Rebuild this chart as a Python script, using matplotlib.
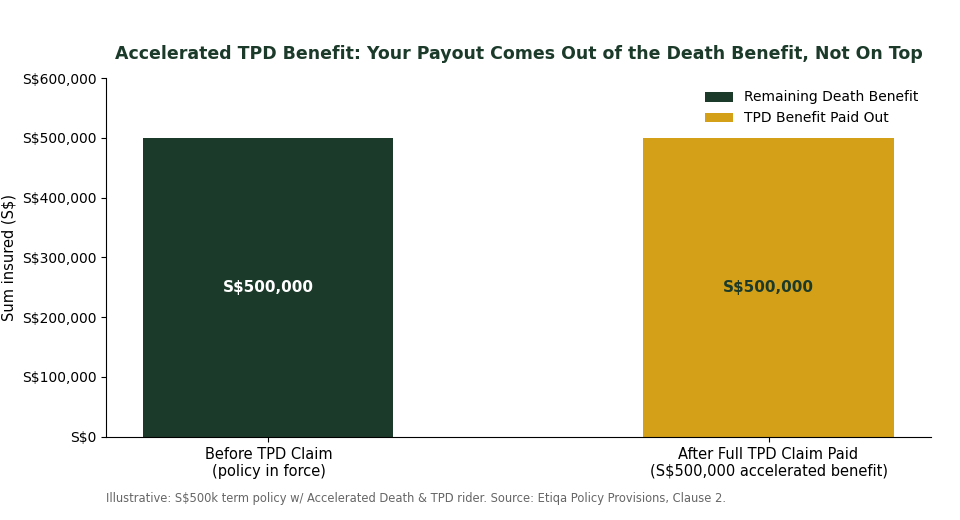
import numpy as np
import matplotlib
matplotlib.use("Agg")
import matplotlib.pyplot as plt
from matplotlib.ticker import FuncFormatter

DARK = "#1b3a2a"
GOLD = "#d4a017"

categories = ["Before TPD Claim\n(policy in force)",
              "After Full TPD Claim Paid\n(S$500,000 accelerated benefit)"]
remaining = [500000, 0]
tpd_paid = [0, 500000]

fig = plt.figure(figsize=(9.6, 5.2), dpi=100)
ax = fig.add_axes([0.1104, 0.16, 0.8594, 0.69])

x = np.arange(len(categories))
ax.bar(x, remaining, width=0.5, color=DARK, label="Remaining Death Benefit")
ax.bar(x, tpd_paid, width=0.5, bottom=remaining, color=GOLD, label="TPD Benefit Paid Out")

# value labels in the middle of each bar
for i in range(len(categories)):
    if remaining[i] > 0:
        ax.text(x[i], remaining[i] / 2, "S${:,.0f}".format(remaining[i]),
                ha="center", va="center", color="white", fontsize=11, fontweight="bold")
    if tpd_paid[i] > 0:
        ax.text(x[i], remaining[i] + tpd_paid[i] / 2, "S${:,.0f}".format(tpd_paid[i]),
                ha="center", va="center", color=DARK, fontsize=11, fontweight="bold")

ax.set_xticks(x)
ax.set_xticklabels(categories, fontsize=10.5)
ax.set_ylim(0, 600000)
ax.yaxis.set_major_formatter(FuncFormatter(lambda v, p: "S${:,.0f}".format(v)))
ax.tick_params(axis="y", labelsize=10)
ax.set_ylabel("Sum insured (S$)", fontsize=10.5)
ax.spines["top"].set_visible(False)
ax.spines["right"].set_visible(False)

ax.set_title("Accelerated TPD Benefit: Your Payout Comes Out of the Death Benefit, Not On Top",
             fontsize=12.5, fontweight="bold", color=DARK, pad=14)
ax.legend(loc="upper right", frameon=False, fontsize=10)

fig.text(0.1104, 0.042, "Illustrative: S$500k term policy w/ Accelerated Death & TPD rider. "
         "Source: Etiqa Policy Provisions, Clause 2.", fontsize=8.3, color="#666666",
         va="center")

fig.savefig("out.png", dpi=100)
